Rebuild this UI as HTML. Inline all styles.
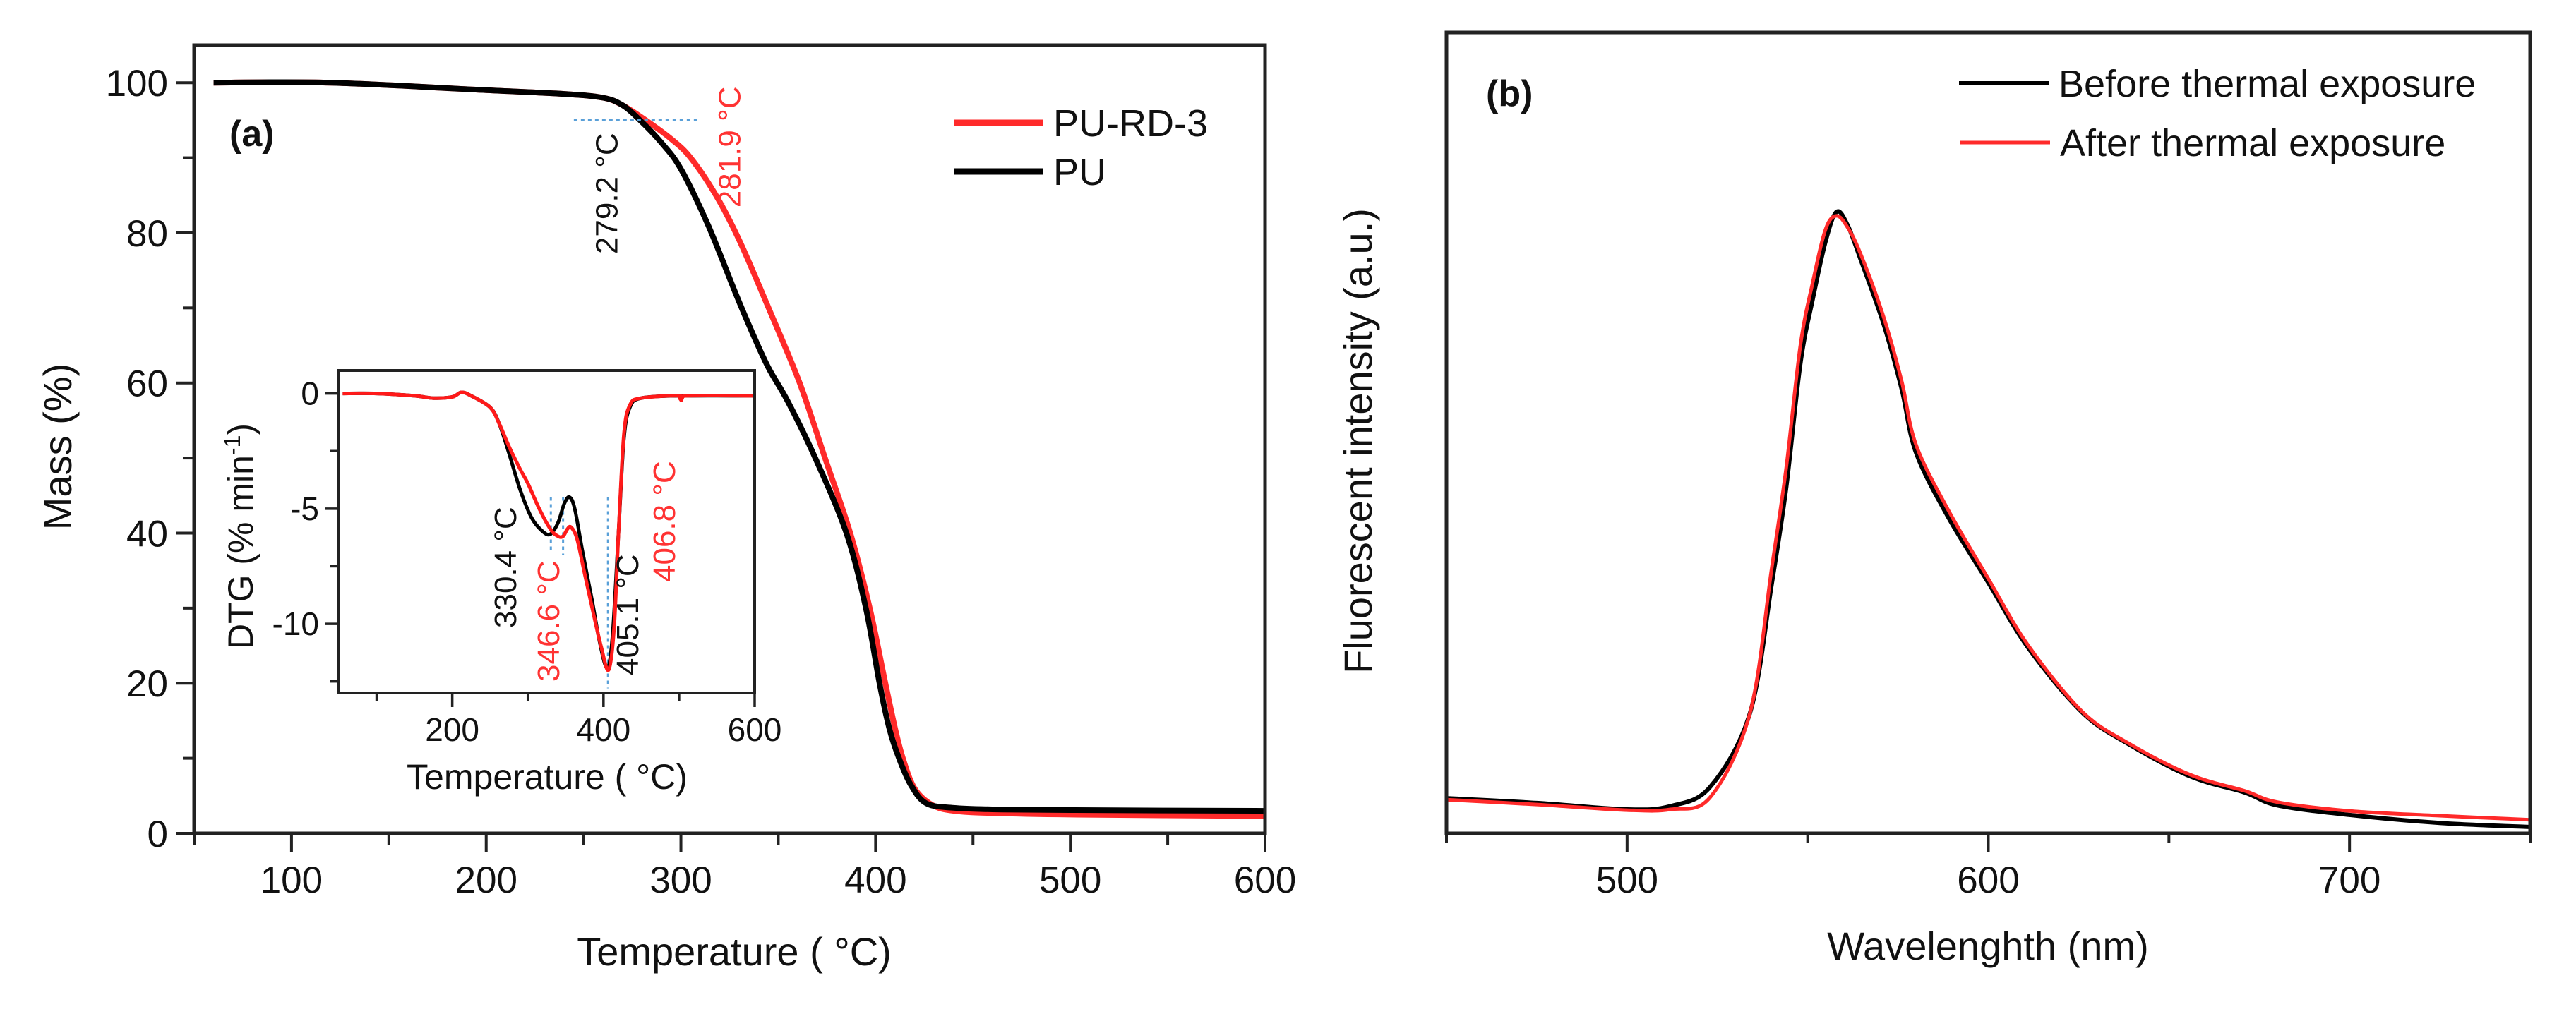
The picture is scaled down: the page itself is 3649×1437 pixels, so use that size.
<!DOCTYPE html>
<html><head><meta charset="utf-8">
<style>
html,body{margin:0;padding:0;background:#fff;}
svg{display:block;font-family:"Liberation Sans",Arial,sans-serif;}
</style></head>
<body>
<svg id="fig" width="3649" height="1437" viewBox="0 0 3649 1437" xmlns="http://www.w3.org/2000/svg">
<rect width="3649" height="1437" fill="#fff"/>
<g id="pa"></g>
<g id="pi"></g>
<g id="pb"></g>
</svg>
<script>
// ---- Panel (a) TGA data ----
const tgaPuT   = [60,120,200,240,260,270,279,290,300,314,328,337,345,355,369,385,395,402,407,412,418,426,440,460,500,600];
const tgaPuM   = [100,100,99,98.5,98,97,95,92,88.5,81,72,66.5,62,57.5,50,40,30,20,14,10,6.5,4,3.4,3.2,3.1,3.0];
const tgaRdT   = [60,120,200,240,260,270,282,295,305,318,330,345,361,374,387,397,405,410,414,420,429,440,460,500,600];
const tgaRdM   = [100,100,99,98.5,98,97,95,92.5,90,85,79,70,60,50,40,30,20,14,10,6,3.8,3.0,2.7,2.5,2.3];
const tgaXTicks = [100,200,300,400,500,600];
const tgaYTicks = [0,20,40,60,80,100];
// ---- Inset DTG data ----
const dtgPuT = [55,100,150,175,200,212,225,250,262,275,290,305,320,330,340,348,355,362,372,385,395,405,412,420,427,435,450,500,503,510,600];
const dtgPuV = [0,0,-0.1,-0.2,-0.15,0.05,-0.1,-0.6,-1.3,-2.6,-4.2,-5.4,-6.0,-6.1,-5.6,-4.8,-4.5,-5.0,-6.8,-9.0,-10.8,-11.9,-10.5,-6,-2,-0.6,-0.2,-0.1,-0.2,-0.1,-0.1];
const dtgRdT = [55,100,150,175,200,212,225,250,262,275,290,300,315,330,340,346.6,352,357,365,375,387,397,406.8,414,420,427,435,450,500,503,510,600];
const dtgRdV = [0,0,-0.1,-0.2,-0.15,0.05,-0.1,-0.6,-1.3,-2.3,-3.3,-3.9,-5.0,-5.9,-6.2,-6.2,-5.9,-5.8,-6.3,-7.8,-9.6,-11.0,-12.0,-10.2,-6,-1.8,-0.5,-0.2,-0.1,-0.3,-0.1,-0.1];
const dtgXTicks = [200,400,600];
const dtgYTicks = [0,-5,-10];
// ---- Panel (b) fluorescence data ----
const flWl   = [450,475,500,512,523,534,540,544,548,551.5,555,558,561,564.6,571,576,580,589,600,611,626,639,656,671,680,700,725,750];
const flBef  = [4.4,3.8,3.0,3.4,5.8,15,31,43,58.7,66.9,74,77.6,76,71.7,63.6,55.5,47.5,39.4,31.3,23.2,15.1,11.1,7.1,5.1,3.5,2.3,1.3,0.8];
const flAft  = [4.2,3.6,2.9,3.0,4.5,15,33,45.5,61,69,75.5,77.1,75.7,72.4,64.5,56.5,48.5,40.3,31.8,23.5,15.2,11.2,7.3,5.3,3.9,2.8,2.2,1.7];
const flXTicks = [500,600,700];

const NS="http://www.w3.org/2000/svg";
function mk(parent,tag,attrs,text){const e=document.createElementNS(NS,tag);for(const k in attrs)e.setAttribute(k,attrs[k]);if(text!==undefined)e.textContent=text;parent.appendChild(e);return e;}
function lin(d0,d1,r0,r1){return v=>r0+(v-d0)/(d1-d0)*(r1-r0);}
function smoothPath(pts){
  let d="M"+pts[0][0].toFixed(1)+","+pts[0][1].toFixed(1);
  for(let i=0;i<pts.length-1;i++){
    const p0=pts[Math.max(0,i-1)],p1=pts[i],p2=pts[i+1],p3=pts[Math.min(pts.length-1,i+2)];
    const c1=[p1[0]+(p2[0]-p0[0])/6,p1[1]+(p2[1]-p0[1])/6];
    const c2=[p2[0]-(p3[0]-p1[0])/6,p2[1]-(p3[1]-p1[1])/6];
    d+="C"+c1[0].toFixed(1)+","+c1[1].toFixed(1)+" "+c2[0].toFixed(1)+","+c2[1].toFixed(1)+" "+p2[0].toFixed(1)+","+p2[1].toFixed(1);
  }
  return d;
}

// ===== Panel A =====
const A=document.getElementById('pa');
const ax=lin(50,600,275,1792), ay=lin(0,105,1181,64);
for(let v=50;v<=600;v+=50){const t=mk(A,'line',{x1:ax(v),x2:ax(v),y1:1181,y2:1181+(v%100===0?26:16),stroke:'#222','stroke-width':4});

}
for(let v=0;v<=100;v+=10){const t=mk(A,'line',{x1:275,x2:275-(v%20===0?26:16),y1:ay(v),y2:ay(v),stroke:'#222','stroke-width':4});

}
tgaXTicks.forEach(v=>{const t=mk(A,'text',{x:ax(v),y:1265,'font-size':53,'text-anchor':'middle',fill:'#111'},String(v));

});
tgaYTicks.forEach(v=>{const t=mk(A,'text',{x:238,y:ay(v)+19,'font-size':53,'text-anchor':'end',fill:'#111'},String(v));

});
let pRd=mk(A,'path',{d:smoothPath(tgaRdT.map((t,i)=>[ax(t),ay(tgaRdM[i])])),fill:'none',stroke:'#ff2a2a','stroke-width':8,'stroke-linejoin':'round'});


let pPu=mk(A,'path',{d:smoothPath(tgaPuT.map((t,i)=>[ax(t),ay(tgaPuM[i])])),fill:'none',stroke:'#000','stroke-width':8,'stroke-linejoin':'round'});


let dl=mk(A,'line',{x1:ax(245),x2:ax(309),y1:ay(95),y2:ay(95),stroke:'#5aa0d8','stroke-width':3,'stroke-dasharray':'5,5'});


let fa=mk(A,'rect',{x:275,y:64,width:1517,height:1117,fill:'none',stroke:'#222','stroke-width':5});


let a1=mk(A,'text',{x:0,y:0,'font-size':44,fill:'#111','text-anchor':'end',transform:`translate(${ax(262)+15},${ay(95)+18}) rotate(-90)`},'279.2 °C');


let a2=mk(A,'text',{x:0,y:0,'font-size':44,fill:'#ff3333','text-anchor':'end',transform:`translate(${ax(325)+15},${ay(99.5)}) rotate(-90)`},'281.9 °C');


let la=mk(A,'text',{x:325,y:207,'font-size':52,fill:'#111','font-weight':'bold'},'(a)');


let l1=mk(A,'line',{x1:1352,x2:1478,y1:174,y2:174,stroke:'#ff2a2a','stroke-width':9});


let l1t=mk(A,'text',{x:1492,y:193,'font-size':54,fill:'#111'},'PU-RD-3');


let l2=mk(A,'line',{x1:1352,x2:1478,y1:243,y2:243,stroke:'#000','stroke-width':9});


let l2t=mk(A,'text',{x:1492,y:262,'font-size':54,fill:'#111'},'PU');


let xt=mk(A,'text',{x:1040,y:1368,'font-size':56,'text-anchor':'middle',fill:'#111'},'Temperature ( °C)');


let yt=mk(A,'text',{x:0,y:0,'font-size':56,'text-anchor':'middle',fill:'#111',transform:'translate(101,633) rotate(-90)'},'Mass (%)');



// ===== Inset =====
const I=document.getElementById('pi');
const ix=lin(50,600,480,1069), iy=lin(1,-13,525,982);
let ib=mk(I,'rect',{x:480,y:525,width:589,height:457,fill:'#fff'});


for(let v=100;v<=600;v+=100){const t=mk(I,'line',{x1:ix(v),x2:ix(v),y1:982,y2:982+(v%200===0?20:12),stroke:'#222','stroke-width':3.5});

}
for(let v=0;v>=-12.5;v-=2.5){const t=mk(I,'line',{x1:480,x2:480-(v%5===0?20:12),y1:iy(v),y2:iy(v),stroke:'#222','stroke-width':3.5});

}
dtgXTicks.forEach(v=>{const t=mk(I,'text',{x:ix(v),y:1050,'font-size':46,'text-anchor':'middle',fill:'#111'},String(v));

});
dtgYTicks.forEach(v=>{const t=mk(I,'text',{x:452,y:iy(v)+16,'font-size':46,'text-anchor':'end',fill:'#111'},String(v));

});
[[330.4,-6.1],[346.6,-6.2],[406,-12]].forEach(p=>{const g=mk(I,'line',{x1:ix(p[0]),x2:ix(p[0]),y1:iy(-4.5),y2:iy(p[1]-0.8),stroke:'#5aa0d8','stroke-width':3,'stroke-dasharray':'5,5'});

});
let ipu=mk(I,'path',{d:smoothPath(dtgPuT.map((t,i)=>[ix(t),iy(dtgPuV[i])])),fill:'none',stroke:'#000','stroke-width':5});


let ird=mk(I,'path',{d:smoothPath(dtgRdT.map((t,i)=>[ix(t),iy(dtgRdV[i])])),fill:'none',stroke:'#ff1a1a','stroke-width':5});


let ifr=mk(I,'rect',{x:480,y:525,width:589,height:457,fill:'none',stroke:'#222','stroke-width':4});


[['330.4 °C',731,890,'#111'],['346.6 °C',792,966,'#ff3333'],['405.1 °C',904,957,'#111'],['406.8 °C',956,825,'#ff3333']].forEach(a=>{
 const t=mk(I,'text',{x:0,y:0,'font-size':44,fill:a[3],transform:`translate(${a[1]},${a[2]}) rotate(-90)`},a[0]);
 
 });
let ixt=mk(I,'text',{x:775,y:1118,'font-size':50,'text-anchor':'middle',fill:'#111'},'Temperature ( °C)');


let iyt=mk(I,'text',{x:0,y:0,'font-size':50,'text-anchor':'middle',fill:'#111',transform:'translate(358,760) rotate(-90)'});


iyt.appendChild(document.createTextNode('DTG (% min'));
mk(iyt,'tspan',{'font-size':32,dy:-18},'-1');
mk(iyt,'tspan',{dy:18},')');

// ===== Panel B =====
const B=document.getElementById('pb');
const bx=lin(450,750,2049,3584), by=lin(0,100,1181,46);
for(let v=450;v<=750;v+=50){const t=mk(B,'line',{x1:bx(v),x2:bx(v),y1:1181,y2:1181+(v%100===0?26:14),stroke:'#222','stroke-width':4});

}
flXTicks.forEach(v=>{const t=mk(B,'text',{x:bx(v),y:1265,'font-size':53,'text-anchor':'middle',fill:'#111'},String(v));

});
let bb=mk(B,'path',{d:smoothPath(flWl.map((w,i)=>[bx(w),by(flBef[i])])),fill:'none',stroke:'#000','stroke-width':6});


let ba=mk(B,'path',{d:smoothPath(flWl.map((w,i)=>[bx(w),by(flAft[i])])),fill:'none',stroke:'#ff2a2a','stroke-width':5});


let fb=mk(B,'rect',{x:2049,y:46,width:1535,height:1135,fill:'none',stroke:'#222','stroke-width':5});


let lb=mk(B,'text',{x:2105,y:150,'font-size':52,fill:'#111','font-weight':'bold'},'(b)');


let bl1=mk(B,'line',{x1:2775,x2:2902,y1:118,y2:118,stroke:'#000','stroke-width':6});


let bl1t=mk(B,'text',{x:2916,y:137,'font-size':54,fill:'#111'},'Before thermal exposure');


let bl2=mk(B,'line',{x1:2777,x2:2904,y1:202,y2:202,stroke:'#ff2a2a','stroke-width':5});


let bl2t=mk(B,'text',{x:2918,y:221,'font-size':54,fill:'#111'},'After thermal exposure');


let bxt=mk(B,'text',{x:2816,y:1360,'font-size':56,'text-anchor':'middle',fill:'#111'},'Wavelenghth (nm)');


let byt=mk(B,'text',{x:0,y:0,'font-size':56,'text-anchor':'middle',fill:'#111',transform:'translate(1943,625) rotate(-90)'},'Fluorescent intensity (a.u.)');


</script>
</body></html>
